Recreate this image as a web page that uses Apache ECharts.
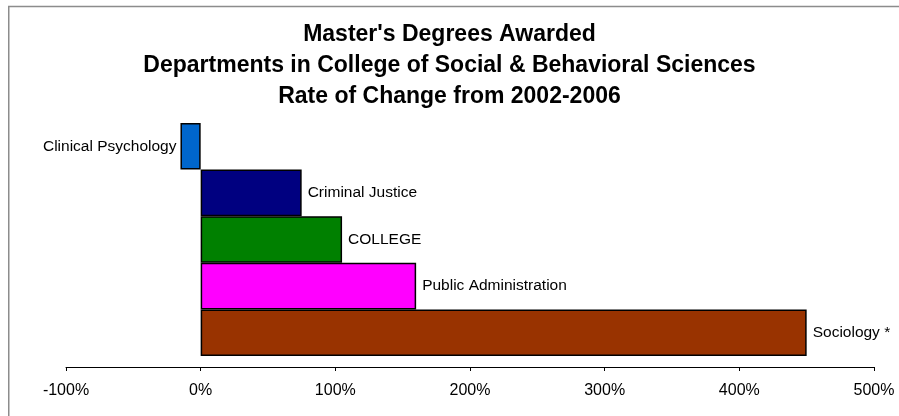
<!DOCTYPE html>
<html>
<head>
<meta charset="utf-8">
<script src="https://cdn.jsdelivr.net/npm/echarts@6/dist/echarts.min.js"></script>
<style>html,body{margin:0;padding:0;background:#fff}#c{width:899px;height:416px}</style>
</head>
<body>
<div id="c"></div>
<script>
const categories = ['Clinical Psychology', 'Criminal Justice', 'COLLEGE', 'Public Administration', 'Sociology *'];
const values = [-15, 75, 105, 160, 450];
const colors = ['#0066CC', '#000080', '#008000', '#FF00FF', '#993300'];
const tickMin = -100, tickMax = 500, tickStep = 100;
const titleLines = ["Master's Degrees Awarded", 'Departments in College of Social & Behavioral Sciences', 'Rate of Change from 2002-2006'];

const font = "'Liberation Sans', Arial, sans-serif";
const chart = echarts.init(document.getElementById('c'), null, {renderer: 'canvas'});
chart.setOption({
  animation: false,
  backgroundColor: '#fff',
  title: {
    text: titleLines.join('\n'),
    left: 'center',
    top: 19,
    padding: 0,
    textStyle: {fontFamily: font, fontWeight: 'bold', fontSize: 23, color: '#000', lineHeight: 31}
  },
  graphic: [{
    type: 'rect', silent: true,
    shape: {x: 8.75, y: 6.5, width: 1000, height: 1000},
    style: {fill: 'none', stroke: '#8c8c8c', lineWidth: 1.5}
  }],
  grid: {left: 66, right: 25, top: 123, height: 233},
  xAxis: {
    type: 'value', min: tickMin, max: tickMax, interval: tickStep,
    offset: 11,
    axisLine: {show: true, lineStyle: {color: '#000', width: 1}},
    axisTick: {show: true, length: 4, lineStyle: {color: '#000'}},
    splitLine: {show: false},
    axisLabel: {formatter: '{value}%', color: '#000', fontFamily: font, fontSize: 16, margin: 16}
  },
  yAxis: {
    type: 'category', data: categories, inverse: true,
    axisLine: {show: false}, axisTick: {show: false}, axisLabel: {show: false}, splitLine: {show: false}
  },
  series: [{
    type: 'bar',
    barCategoryGap: '0%',
    data: values.map((v, i) => ({
      value: v,
      itemStyle: {color: colors[i]},
      label: {position: v < 0 ? 'left' : 'right', distance: v < 0 ? 4 : 6}
    })),
    itemStyle: {borderColor: '#000', borderWidth: 1.5},
    label: {
      show: true,
      formatter: p => p.name,
      color: '#000', fontFamily: font, fontSize: 15.5
    }
  }]
});
</script>
</body>
</html>
